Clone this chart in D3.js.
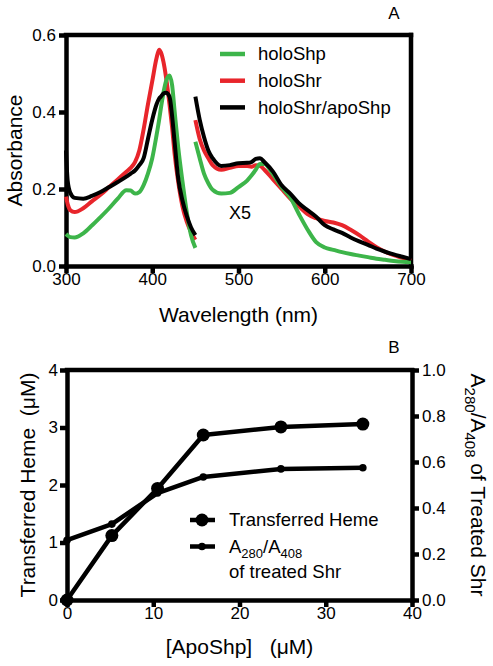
<!DOCTYPE html>
<html><head><meta charset="utf-8">
<script src="https://cdn.jsdelivr.net/npm/d3@7/dist/d3.min.js"></script>
<style>
body{margin:0;background:#fff}
svg{display:block}
text{font-family:"Liberation Sans",Arial,Helvetica,sans-serif;fill:#000}
</style>
</head><body>
<svg id="chart" width="493" height="666"></svg>
<script>
// ---------- Panel A data ----------
const seriesNames = ["holoShp", "holoShr", "holoShr/apoShp"];
const seriesColors = ["#3db54a", "#e8252b", "#000000"];
const xTicksA = [300, 400, 500, 600, 700];
const yTicksA = [0.0, 0.2, 0.4, 0.6];

// Soret region (300-450 nm)
const wlSoret = [300,302,305,310,320,330,340,350,360,370,375,380,385,390,395,400,405,408,410,413,416,420,423,426,430,435,440,445,450];
const holoShpSoret = [0.083,0.079,0.075,0.074,0.085,0.105,0.127,0.15,0.175,0.197,0.196,0.188,0.192,0.21,0.24,0.28,0.34,0.38,0.41,0.45,0.48,0.495,0.47,0.40,0.31,0.22,0.14,0.08,0.047];
const holoShrSoret = [0.18,0.16,0.145,0.14,0.15,0.168,0.185,0.205,0.225,0.245,0.255,0.27,0.30,0.355,0.42,0.48,0.54,0.562,0.555,0.53,0.49,0.42,0.36,0.29,0.22,0.155,0.115,0.088,0.068];
const holoShrApoShpSoret = [0.30,0.22,0.19,0.177,0.175,0.182,0.192,0.205,0.218,0.232,0.24,0.248,0.262,0.28,0.33,0.38,0.42,0.435,0.44,0.448,0.45,0.44,0.39,0.32,0.23,0.17,0.13,0.10,0.08];

// Visible region (450-700 nm, shown x5)
const wlVis = [450,455,460,465,470,480,490,500,510,515,520,525,530,540,550,560,570,580,590,600,610,620,630,640,650,660,670,680,690,700];
const holoShpVis = [0.323,0.28,0.24,0.215,0.198,0.188,0.19,0.205,0.222,0.235,0.25,0.265,0.265,0.238,0.205,0.178,0.135,0.095,0.062,0.048,0.042,0.036,0.031,0.027,0.023,0.019,0.016,0.013,0.011,0.01];
const holoShrVis = [0.379,0.33,0.30,0.28,0.262,0.25,0.255,0.26,0.26,0.258,0.262,0.26,0.25,0.225,0.2,0.175,0.155,0.135,0.124,0.117,0.113,0.106,0.094,0.08,0.064,0.049,0.037,0.028,0.021,0.014];
const holoShrApoShpVis = [0.44,0.38,0.335,0.30,0.28,0.26,0.262,0.267,0.268,0.27,0.278,0.28,0.27,0.245,0.21,0.188,0.163,0.145,0.128,0.106,0.095,0.086,0.074,0.064,0.055,0.045,0.037,0.03,0.024,0.018];

// ---------- Panel B data ----------
const apoShp = [0, 5.2, 10.5, 15.8, 24.8, 34.3];
const transferredHeme = [0, 1.12, 1.94, 2.87, 3.01, 3.06];
const ratioA280A408 = [0.26, 0.33, 0.465, 0.535, 0.57, 0.575];
const xTicksB = [0, 10, 20, 30, 40];
const yTicksBLeft = [0, 1, 2, 3, 4];
const yTicksBRight = [0.0, 0.2, 0.4, 0.6, 0.8, 1.0];

const svg = d3.select("#chart");
const AX = 4.5;       // axis stroke
const tickFont = "17px";

function styleAxis(g){
  g.select(".domain").attr("stroke","#000").attr("stroke-width",AX).attr("stroke-linecap","square");
  g.selectAll(".tick line").attr("stroke","#000").attr("stroke-width",AX);
  g.selectAll(".tick text").style("font-size",tickFont).attr("fill","#000");
}

// ================= Panel A =================
const xA = d3.scaleLinear().domain([300,700]).range([66,411]);
const yA = d3.scaleLinear().domain([0,0.6]).range([266,35]);

// frame top & right
svg.append("line").attr("x1",xA(300)).attr("x2",xA(700)).attr("y1",yA(0.6)).attr("y2",yA(0.6))
  .attr("stroke","#000").attr("stroke-width",AX).attr("stroke-linecap","square");
svg.append("line").attr("x1",xA(700)).attr("x2",xA(700)).attr("y1",yA(0.6)).attr("y2",yA(0))
  .attr("stroke","#000").attr("stroke-width",AX).attr("stroke-linecap","square");

const gxA = svg.append("g").attr("transform",`translate(0,${yA(0)})`)
  .call(d3.axisBottom(xA).tickValues(xTicksA).tickFormat(d3.format("d")).tickSize(7).tickSizeOuter(0).tickPadding(0));
styleAxis(gxA);
const gyA = svg.append("g").attr("transform",`translate(${xA(300)},0)`)
  .call(d3.axisLeft(yA).tickValues(yTicksA).tickFormat(d3.format(".1f")).tickSize(7).tickSizeOuter(0).tickPadding(3));
styleAxis(gyA);

const lineA = d3.line().x(d=>xA(d[0])).y(d=>yA(d[1])).curve(d3.curveMonotoneX);
const soret = [holoShpSoret, holoShrSoret, holoShrApoShpSoret];
const vis = [holoShpVis, holoShrVis, holoShrApoShpVis];
const drawOrder = [1,0,2];
drawOrder.forEach(i=>{
  svg.append("path").datum(wlSoret.map((w,k)=>[w,soret[i][k]]))
    .attr("d",lineA).attr("fill","none").attr("stroke",seriesColors[i]).attr("stroke-width",4).attr("stroke-linejoin","round");
  svg.append("path").datum(wlVis.map((w,k)=>[w,vis[i][k]]))
    .attr("d",lineA).attr("fill","none").attr("stroke",seriesColors[i]).attr("stroke-width",4).attr("stroke-linejoin","round");
});

// legend A
seriesNames.forEach((n,i)=>{
  const y = 54 + i*26.7;
  svg.append("line").attr("x1",220).attr("x2",245).attr("y1",y).attr("y2",y)
    .attr("stroke",seriesColors[i]).attr("stroke-width",4.5);
  svg.append("text").attr("x",258).attr("y",y).attr("dy","0.35em").style("font-size","18.5px").text(n);
});

svg.append("text").attr("x",240).attr("y",219).attr("text-anchor","middle").style("font-size","18px").text("X5");
svg.append("text").attr("x",394).attr("y",19).attr("text-anchor","middle").style("font-size","17px").text("A");

svg.append("text").attr("transform",`translate(22,${(yA(0)+yA(0.6))/2}) rotate(-90)`)
  .attr("text-anchor","middle").style("font-size","21px").text("Absorbance");
svg.append("text").attr("x",(xA(300)+xA(700))/2).attr("y",322)
  .attr("text-anchor","middle").style("font-size","21px").text("Wavelength (nm)");

// ================= Panel B =================
const xB = d3.scaleLinear().domain([0,40]).range([67,412]);
const yBL = d3.scaleLinear().domain([0,4]).range([600,370]);
const yBR = d3.scaleLinear().domain([0,1]).range([600,370]);

svg.append("line").attr("x1",xB(0)).attr("x2",xB(40)).attr("y1",yBL(4)).attr("y2",yBL(4))
  .attr("stroke","#000").attr("stroke-width",AX).attr("stroke-linecap","square");

const gxB = svg.append("g").attr("transform",`translate(0,${yBL(0)})`)
  .call(d3.axisBottom(xB).tickValues(xTicksB).tickFormat(d3.format("d")).tickSize(7).tickSizeOuter(0).tickPadding(0));
styleAxis(gxB);
const gyBL = svg.append("g").attr("transform",`translate(${xB(0)},0)`)
  .call(d3.axisLeft(yBL).tickValues(yTicksBLeft).tickFormat(d3.format("d")).tickSize(7).tickSizeOuter(0).tickPadding(2));
styleAxis(gyBL);
const gyBR = svg.append("g").attr("transform",`translate(${xB(40)},0)`)
  .call(d3.axisRight(yBR).tickValues(yTicksBRight).tickFormat(d3.format(".1f")).tickSize(7).tickSizeOuter(0).tickPadding(3));
styleAxis(gyBR);

const lineHeme = d3.line().x((d,i)=>xB(apoShp[i])).y(d=>yBL(d));
const lineRatio = d3.line().x((d,i)=>xB(apoShp[i])).y(d=>yBR(d));
svg.append("path").datum(ratioA280A408).attr("d",lineRatio).attr("fill","none").attr("stroke","#000").attr("stroke-width",4.5).attr("stroke-linejoin","round");
svg.append("path").datum(transferredHeme).attr("d",lineHeme).attr("fill","none").attr("stroke","#000").attr("stroke-width",4.5).attr("stroke-linejoin","round");
svg.selectAll("circle.r").data(ratioA280A408).enter().append("circle").attr("class","r")
  .attr("cx",(d,i)=>xB(apoShp[i])).attr("cy",d=>yBR(d)).attr("r",3.8).attr("fill","#000");
svg.selectAll("circle.h").data(transferredHeme).enter().append("circle").attr("class","h")
  .attr("cx",(d,i)=>xB(apoShp[i])).attr("cy",d=>yBL(d)).attr("r",6.5).attr("fill","#000");

// legend B
svg.append("line").attr("x1",190).attr("x2",215).attr("y1",520).attr("y2",520).attr("stroke","#000").attr("stroke-width",4.5);
svg.append("circle").attr("cx",202).attr("cy",520).attr("r",6.5).attr("fill","#000");
svg.append("text").attr("x",229).attr("y",520).attr("dy","0.35em").style("font-size","18.5px").text("Transferred Heme");
svg.append("line").attr("x1",190).attr("x2",215).attr("y1",546.5).attr("y2",546.5).attr("stroke","#000").attr("stroke-width",4.5);
svg.append("circle").attr("cx",202).attr("cy",546.5).attr("r",3.8).attr("fill","#000");
const lt = svg.append("text").attr("x",229).attr("y",546.5).attr("dy","0.35em").style("font-size","18.5px");
lt.append("tspan").text("A");
lt.append("tspan").attr("dy",5).style("font-size","13px").text("280");
lt.append("tspan").attr("dy",-5).text("/A");
lt.append("tspan").attr("dy",5).style("font-size","13px").text("408");
svg.append("text").attr("x",229).attr("y",572).attr("dy","0.35em").style("font-size","18.5px").text("of treated Shr");

svg.append("text").attr("x",394).attr("y",353).attr("text-anchor","middle").style("font-size","17px").text("B");

svg.append("text").attr("transform",`translate(35,${(yBL(0)+yBL(4))/2}) rotate(-90)`)
  .attr("text-anchor","middle").style("font-size","21px").style("white-space","pre").text("Transferred Heme  (\u03BCM)");
svg.append("text").attr("x",(xB(0)+xB(40))/2).attr("y",654)
  .attr("text-anchor","middle").style("font-size","21px").style("white-space","pre").text("[ApoShp]   (\u03BCM)");

const rt = svg.append("text").attr("transform",`translate(471,${(yBL(0)+yBL(4))/2}) rotate(90)`)
  .attr("text-anchor","middle").style("font-size","21px");
rt.append("tspan").text("A");
rt.append("tspan").attr("dy",6).style("font-size","15px").text("280");
rt.append("tspan").attr("dy",-6).text("/A");
rt.append("tspan").attr("dy",6).style("font-size","15px").text("408");
rt.append("tspan").attr("dy",-6).text(" of Treated Shr");
</script>
</body></html>
